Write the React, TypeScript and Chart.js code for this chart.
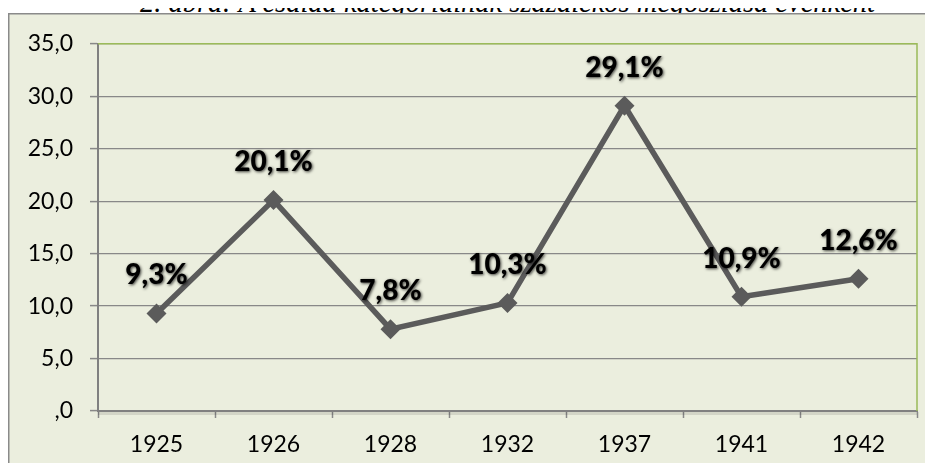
import React, { useEffect, useRef } from "react";
import { Chart, registerables } from "chart.js";

Chart.register(...registerables);

const TITLE = "2. ábra: A család kategóriáinak százalékos megoszlása évenként";
const years = ["1925", "1926", "1928", "1932", "1937", "1941", "1942"];
const shares = [9.3, 20.1, 7.8, 10.3, 29.1, 10.9, 12.6];
const shareLabels = ["9,3%", "20,1%", "7,8%", "10,3%", "29,1%", "10,9%", "12,6%"];
const yMin = 0;
const yMax = 35;
const yStep = 5;

const BG = "#EBEEDE";
const GRID = "#888888";
const GREEN = "#9BBB59";
const LINE = "#5B5B5B";

const framePlugin = {
  id: "frame",
  beforeDraw(chart: any) {
    const { ctx, width, height } = chart;
    ctx.save();
    ctx.fillStyle = BG;
    ctx.fillRect(0, 0, width, height);
    ctx.strokeStyle = "#8A8A8A";
    ctx.lineWidth = 1.5;
    ctx.beginPath();
    ctx.moveTo(0.75, height);
    ctx.lineTo(0.75, 0.75);
    ctx.lineTo(width, 0.75);
    ctx.stroke();
    ctx.restore();
  },
  beforeDatasetsDraw(chart: any) {
    const { ctx, chartArea } = chart;
    const { left, right, top, bottom } = chartArea;
    ctx.save();
    ctx.strokeStyle = GREEN;
    ctx.lineWidth = 1.5;
    ctx.beginPath();
    ctx.moveTo(left, top);
    ctx.lineTo(right, top);
    ctx.lineTo(right, bottom);
    ctx.stroke();
    ctx.strokeStyle = "rgba(0,0,0,0.10)";
    ctx.lineWidth = 3;
    ctx.beginPath();
    ctx.moveTo(left, bottom + 2.5);
    ctx.lineTo(right, bottom + 2.5);
    ctx.stroke();
    ctx.restore();
  },
};

const labelPlugin = {
  id: "pointLabels",
  afterDatasetsDraw(chart: any) {
    const { ctx } = chart;
    const meta = chart.getDatasetMeta(0);
    ctx.save();
    ctx.font = "900 28px Lato";
    ctx.textAlign = "center";
    ctx.textBaseline = "middle";
    meta.data.forEach((pt: any, i: number) => {
      const x = pt.x;
      const y = pt.y - 38;
      ctx.shadowColor = "rgba(0,0,0,0.75)";
      ctx.shadowBlur = 3;
      ctx.shadowOffsetX = 1;
      ctx.shadowOffsetY = 1;
      ctx.fillStyle = "#000000";
      ctx.fillText(shareLabels[i], x, y);
    });
    ctx.restore();
  },
};

function fmt(v: number) {
  if (v === 0) return ",0";
  return v.toFixed(1).replace(".", ",");
}

export default function App() {
  const ref = useRef<HTMLCanvasElement | null>(null);

  useEffect(() => {
    if (!ref.current) return;
    const chart = new Chart(ref.current, {
      type: "line",
      data: {
        labels: years,
        datasets: [
          {
            data: shares,
            borderColor: LINE,
            borderWidth: 5.5,
            backgroundColor: LINE,
            pointStyle: "rectRot",
            pointRadius: 10,
            pointBackgroundColor: LINE,
            pointBorderWidth: 0,
            tension: 0,
            clip: false as any,
          },
        ],
      },
      options: {
        responsive: false,
        animation: false,
        layout: { padding: { left: 0, top: 30, right: 16, bottom: 0 } },
        plugins: {
          legend: { display: false },
          title: { display: false },
          tooltip: { enabled: false },
        },
        scales: {
          x: {
            offset: true,
            grid: {
              offset: true,
              drawOnChartArea: false,
              drawTicks: true,
              tickLength: 7,
              tickColor: GRID,
              tickWidth: 1.5,
            },
            border: { color: "#808080", width: 2 },
            ticks: {
              color: "#000000",
              font: { family: "Lato", size: 23 },
              padding: 13,
              maxRotation: 0,
            },
            afterFit(scale: any) {
              scale.height = 60;
            },
          },
          y: {
            min: yMin,
            max: yMax,
            grid: {
              color: GRID,
              lineWidth: 1.2,
              drawTicks: true,
              tickLength: 8,
              tickColor: GRID,
              tickWidth: 1.5,
            },
            border: { color: "#808080", width: 2 },
            ticks: {
              stepSize: yStep,
              color: "#000000",
              font: { family: "Lato", size: 23 },
              padding: 17,
              callback: (v: any) => fmt(Number(v)),
            },
            afterFit(scale: any) {
              scale.width = 90;
            },
          },
        },
      },
      plugins: [framePlugin, labelPlugin],
    });
    return () => chart.destroy();
  }, []);

  return (
    <div
      style={{
        position: "relative",
        width: 933,
        height: 471,
        margin: -8,
        overflow: "hidden",
        background: "#ffffff",
      }}
    >
      <div
        style={{
          position: "absolute",
          left: 41,
          top: -11,
          width: 933,
          textAlign: "center",
          fontFamily: "'Liberation Serif', 'Times New Roman', serif",
          fontStyle: "italic",
          fontSize: 28.5,
          lineHeight: "28px",
          whiteSpace: "nowrap",
          color: "#000000",
        }}
      >
        {TITLE}
      </div>
      <canvas
        ref={ref}
        width={925}
        height={458}
        style={{ position: "absolute", left: 8, top: 13, width: 925, height: 458 }}
      />
    </div>
  );
}
